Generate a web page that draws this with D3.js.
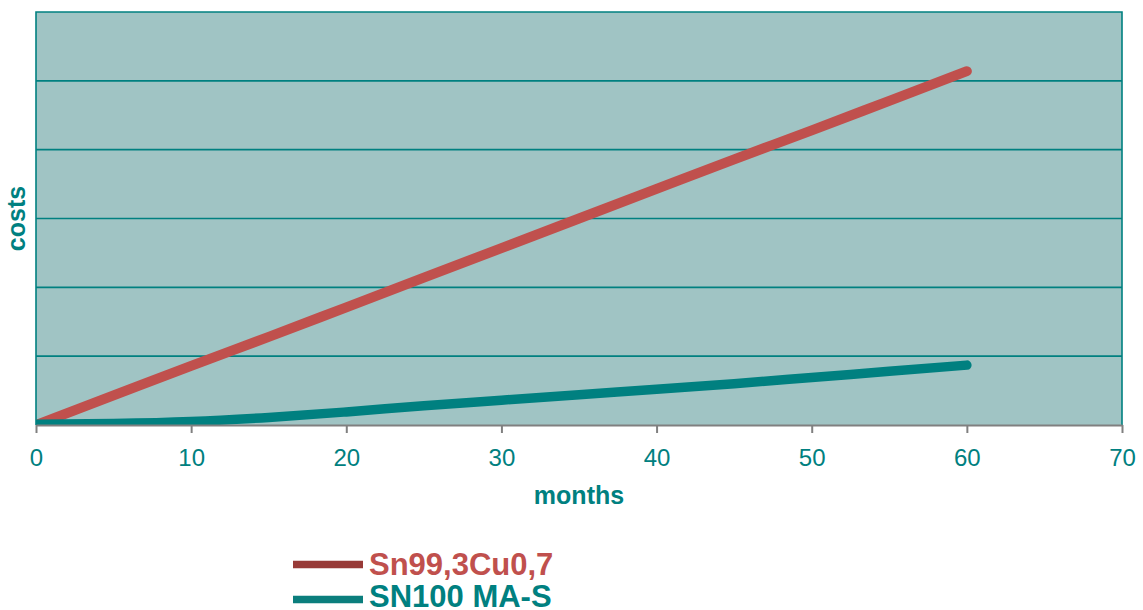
<!DOCTYPE html>
<html>
<head>
<meta charset="utf-8">
<script src="https://cdn.jsdelivr.net/npm/d3@7"></script>
<style>
  html, body { margin: 0; padding: 0; background: #ffffff; }
  svg { display: block; font-family: "Liberation Sans", Arial, sans-serif; }
</style>
</head>
<body>
<svg id="chart" width="1143" height="610"></svg>
<script>
// Cost development over time for two solder alloys
const months = [0, 5, 10, 15, 20, 25, 30, 35, 40, 45, 50, 55, 60];
const costSn99Cu = [0, 0.43, 0.86, 1.28, 1.71, 2.14, 2.57, 3.0, 3.43, 3.86, 4.28, 4.71, 5.14];
const costSN100 = [0.01, 0.02, 0.05, 0.11, 0.19, 0.28, 0.36, 0.44, 0.52, 0.60, 0.69, 0.78, 0.87];
const seriesNames = ["Sn99,3Cu0,7", "SN100 MA-S"];
const xTicks = [0, 10, 20, 30, 40, 50, 60, 70];
const yGrid = [1, 2, 3, 4, 5];
const xTitle = "months";
const yTitle = "costs";

const svg = d3.select("#chart");
const plotL = 36, plotR = 1122, plotT = 12, plotB = 425;

const x = d3.scaleLinear().domain([0, 70]).range([plotL, plotR]);
const y = d3.scaleLinear().domain([0, 6]).range([plotB, plotT]);

const teal = "#008080";

// plot background
svg.append("rect")
  .attr("x", plotL).attr("y", plotT)
  .attr("width", plotR - plotL).attr("height", plotB - plotT)
  .attr("fill", "#a0c4c4");

svg.append("clipPath").attr("id", "plotClip")
  .append("rect")
  .attr("x", plotL).attr("y", plotT)
  .attr("width", plotR - plotL).attr("height", plotB - plotT);

// horizontal gridlines
svg.append("g").selectAll("line").data(yGrid).join("line")
  .attr("x1", plotL).attr("x2", plotR)
  .attr("y1", d => y(d)).attr("y2", d => y(d))
  .attr("stroke", teal).attr("stroke-width", 1.6);

// frame: top, left, right
svg.append("path")
  .attr("d", `M${plotL},${plotB}V${plotT}H${plotR}V${plotB}`)
  .attr("fill", "none").attr("stroke", teal).attr("stroke-width", 1.6);

// series lines
const lineGen = d3.line()
  .x((d, i) => x(months[i]))
  .y(d => y(d))
  .curve(d3.curveMonotoneX);

const lines = svg.append("g").attr("clip-path", "url(#plotClip)");
lines.append("path")
  .attr("d", lineGen(costSn99Cu))
  .attr("fill", "none").attr("stroke", "#c0504d")
  .attr("stroke-width", 10).attr("stroke-linecap", "round").attr("stroke-linejoin", "round");
lines.append("path")
  .attr("d", lineGen(costSN100))
  .attr("fill", "none").attr("stroke", teal)
  .attr("stroke-width", 9.5).attr("stroke-linecap", "round").attr("stroke-linejoin", "round");

// x axis
const xAxis = svg.append("g")
  .attr("transform", `translate(0,${plotB})`)
  .call(d3.axisBottom(x).tickValues(xTicks).tickSize(8).tickPadding(16).tickSizeOuter(0));
xAxis.select(".domain").attr("stroke", "#808080").attr("stroke-width", 2);
xAxis.selectAll(".tick line").attr("stroke", "#808080").attr("stroke-width", 2);
xAxis.selectAll(".tick text")
  .attr("fill", teal)
  .style("font-size", "24px")
  .style("font-family", "'Liberation Sans', Arial, sans-serif");

// axis titles
svg.append("text")
  .attr("x", (plotL + plotR) / 2).attr("y", 504)
  .attr("text-anchor", "middle")
  .attr("fill", teal)
  .style("font-size", "25px").style("font-weight", "bold")
  .text(xTitle);

svg.append("text")
  .attr("transform", `translate(25,${(plotT + plotB) / 2}) rotate(-90)`)
  .attr("text-anchor", "middle")
  .attr("fill", teal)
  .style("font-size", "25px").style("font-weight", "bold")
  .text(yTitle);

// legend
const legendItems = [
  { name: seriesNames[0], line: "#983a37", text: "#c0504d", ly: 564.5, ty: 574.5 },
  { name: seriesNames[1], line: "#0b7e7d", text: teal, ly: 599.5, ty: 607 }
];
const legend = svg.append("g");
legend.selectAll("line").data(legendItems).join("line")
  .attr("x1", 293).attr("x2", 363)
  .attr("y1", d => d.ly).attr("y2", d => d.ly)
  .attr("stroke", d => d.line).attr("stroke-width", 7.5);
legend.selectAll("text").data(legendItems).join("text")
  .attr("x", 369).attr("y", d => d.ty)
  .attr("fill", d => d.text)
  .style("font-size", "31px").style("font-weight", "bold")
  .text(d => d.name);
</script>
</body>
</html>
